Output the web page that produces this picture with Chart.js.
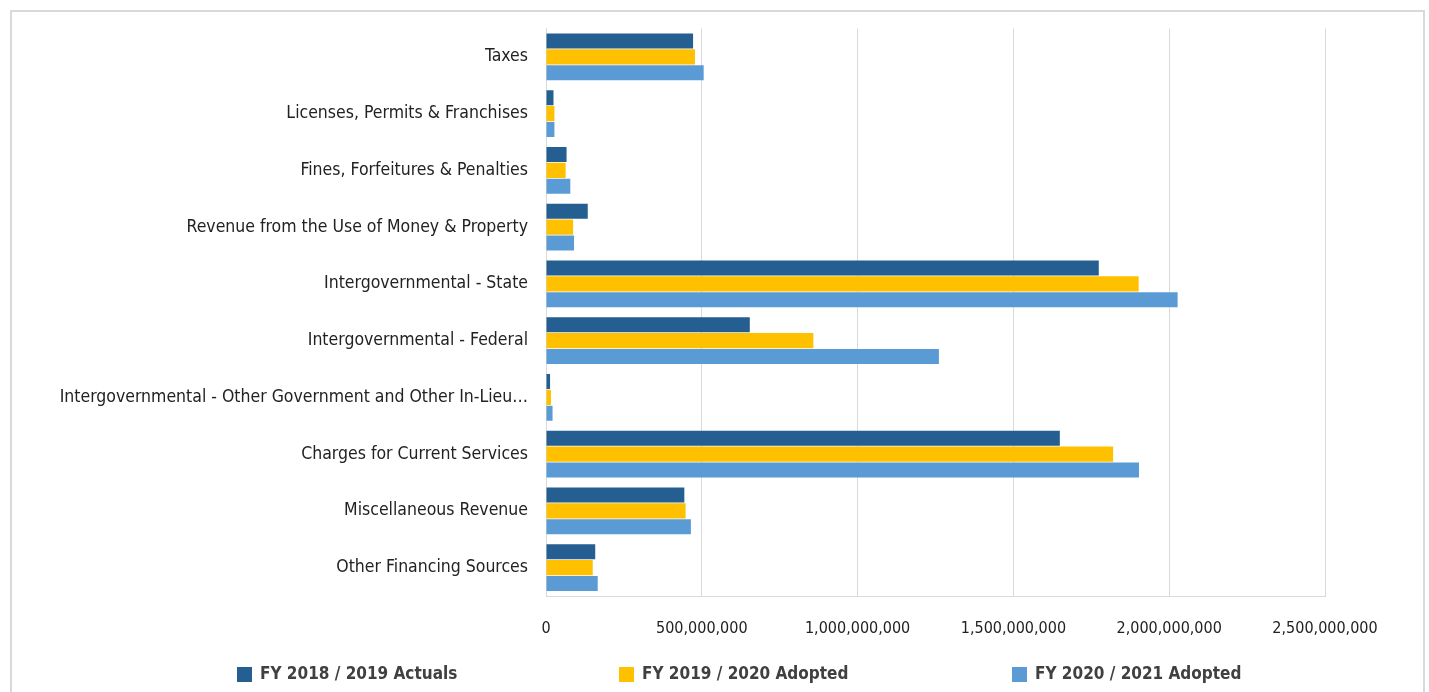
<!DOCTYPE html>
<html>
<head>
<meta charset="utf-8">
<script src="https://cdn.jsdelivr.net/npm/chart.js@4"></script>
<style>
    html, body { margin: 0; padding: 0; background: #fff; }
    body { width: 1429px; height: 692px; overflow: hidden; position: relative; }
    #frame { position: absolute; left: 10px; top: 10px; width: 1411px; height: 700px; border: 2px solid #d9d9d9; }
    #wrap { position: absolute; left: 0; top: 0; width: 1429px; height: 692px; }
</style>
</head>
<body>
<div id="frame"></div>
<div id="wrap"><canvas id="revenueChart"></canvas></div>
<script>
// Revenue categories (top to bottom)
const categories = [
    'Taxes',
    'Licenses, Permits & Franchises',
    'Fines, Forfeitures & Penalties',
    'Revenue from the Use of Money & Property',
    'Intergovernmental - State',
    'Intergovernmental - Federal',
    'Intergovernmental - Other Government and Other In-Lieu\u2026',
    'Charges for Current Services',
    'Miscellaneous Revenue',
    'Other Financing Sources'
];

const seriesNames = ['FY 2018 / 2019 Actuals', 'FY 2019 / 2020 Adopted', 'FY 2020 / 2021 Adopted'];

const actuals1819 = [472e6, 24e6, 66e6, 134e6, 1774e6, 654e6, 13e6, 1649e6, 444e6, 158e6];
const adopted1920 = [478e6, 27e6, 63e6, 87e6, 1902e6, 858e6, 16e6, 1820e6, 448e6, 150e6];
const adopted2021 = [506e6, 27e6, 78e6, 90e6, 2027e6, 1261e6, 21e6, 1903e6, 465e6, 166e6];

const xTicks = [0, 500e6, 1000e6, 1500e6, 2000e6, 2500e6];

const fontFamily = "'Liberation Sans Narrow', 'DejaVu Sans Condensed', sans-serif";

// Legend drawn by hand so items can be spread out like the original
const spreadLegend = {
    id: 'spreadLegend',
    afterDraw(chart) {
        const ctx = chart.ctx;
        const itemX = [237, 619, 1012];
        const y = 667;
        ctx.save();
        ctx.font = `bold 17px ${fontFamily}`;
        ctx.textBaseline = 'middle';
        ctx.textAlign = 'left';
        chart.data.datasets.forEach((ds, i) => {
            ctx.fillStyle = ds.backgroundColor;
            ctx.fillRect(itemX[i], y, 15, 15);
            ctx.fillStyle = '#404040';
            ctx.fillText(ds.label, itemX[i] + 23, y + 8);
        });
        ctx.restore();
    }
};

document.addEventListener('DOMContentLoaded', function() {
    const ctx = document.getElementById('revenueChart').getContext('2d');

    new Chart(ctx, {
        type: 'bar',
        data: {
            labels: categories,
            datasets: [
                { label: seriesNames[0], data: actuals1819, backgroundColor: '#255e91' },
                { label: seriesNames[1], data: adopted1920, backgroundColor: '#ffc000' },
                { label: seriesNames[2], data: adopted2021, backgroundColor: '#5b9bd5' }
            ]
        },
        options: {
            indexAxis: 'y',
            responsive: true,
            maintainAspectRatio: false,
            animation: false,
            layout: { padding: { top: 25, right: 104, bottom: 41, left: 0 } },
            datasets: {
                bar: { barPercentage: 0.95, categoryPercentage: 0.84 }
            },
            scales: {
                x: {
                    min: 0,
                    max: 2500e6,
                    afterBuildTicks: function(scale) {
                        scale.ticks = xTicks.map(v => ({ value: v }));
                    },
                    afterFit: function(scale) { scale.height = 55; },
                    grid: { color: '#d9d9d9', drawTicks: false },
                    border: { display: true, color: '#d9d9d9' },
                    ticks: {
                        padding: 23,
                        color: '#222',
                        maxRotation: 0,
                        font: { family: fontFamily, size: 16 },
                        callback: function(v) { return Number(v).toLocaleString('en-US'); }
                    }
                },
                y: {
                    afterFit: function(scale) { scale.width = 546; },
                    grid: { display: false, drawTicks: false },
                    border: { display: true, color: '#d9d9d9' },
                    ticks: {
                        padding: 18,
                        color: '#222',
                        autoSkip: false,
                        font: { family: fontFamily, size: 17.5 }
                    }
                }
            },
            plugins: {
                legend: { display: false },
                tooltip: { enabled: false }
            }
        },
        plugins: [spreadLegend]
    });
});
</script>
</body>
</html>
